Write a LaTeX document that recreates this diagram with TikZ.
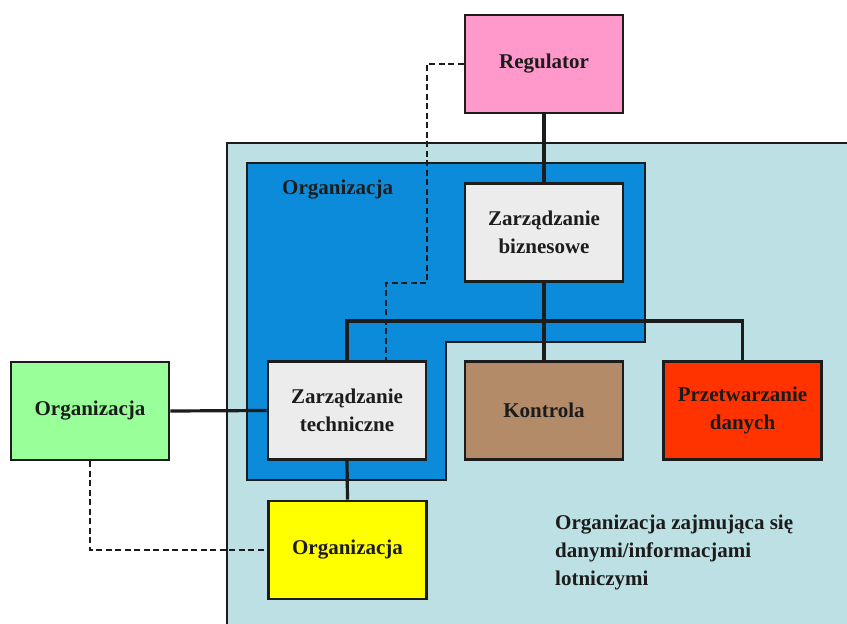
\documentclass[tikz,border=0pt]{standalone}
\usepackage{fontspec}
\setmainfont{Liberation Serif}
\definecolor{regpink}{HTML}{FF99CC}
\definecolor{areateal}{HTML}{BCE0E4}
\definecolor{orgblue}{HTML}{0B8BDA}
\definecolor{mgmtgray}{HTML}{ECECEC}
\definecolor{ctrlbrown}{HTML}{B38B68}
\definecolor{procred}{HTML}{FF3300}
\definecolor{extgreen}{HTML}{99FF99}
\definecolor{subyellow}{HTML}{FFFF00}
\definecolor{ink}{HTML}{1C1C1C}
\begin{document}
\begin{tikzpicture}[x=1pt,y=-1pt,
  lbl/.style={font=\bfseries\fontsize{21}{28}\selectfont, text=ink},
  box/.style={lbl, draw=ink, line width=2.8pt, rectangle, inner sep=0pt, align=center,
              minimum width=158pt, minimum height=98pt},
  link/.style={line width=3.2pt, draw=ink},
  dlink/.style={line width=2.2pt, draw=ink, dash pattern=on 6pt off 3.5pt}]
\useasboundingbox (0,0) rectangle (847,624);

% aviation data organisation area (runs off the page)
\begin{scope}
  \clip (0,0) rectangle (847,624);
  \draw[line width=2.6pt, draw=ink, fill=areateal] (227,143) rectangle (880,660);
\end{scope}

% the organisation itself
\draw[line width=2.8pt, draw=ink, fill=orgblue]
  (247,163) -- (645,163) -- (645,342) -- (446,342) -- (446,480) -- (247,480) -- cycle;
\node[lbl, anchor=west, inner sep=0pt] (orglab) at (282,190) {Organizacja};

% boxes
\node[box, fill=regpink]   (reg)  at (544,64)    {Regulator};
\node[box, fill=mgmtgray]  (biz)  at (544,232.5) {Zarządzanie\\biznesowe};
\node[box, fill=mgmtgray]  (tech) at (347,410.5) {Zarządzanie\\techniczne};
\node[box, fill=ctrlbrown] (kon)  at (544,410.5) {Kontrola};
\node[box, fill=procred]   (prz)  at (742.5,410.5) {Przetwarzanie\\danych};
\node[box, fill=extgreen]  (ext)  at (90,411)    {Organizacja};
\node[box, fill=subyellow] (sub)  at (347.5,550) {Organizacja};

\node[lbl, anchor=north west, align=left, inner sep=0pt] (area) at (555,515)
  {Organizacja zajmująca się\\danymi/informacjami\\lotniczymi};

% solid links
\coordinate (bus) at (0,321);
\draw[link] (reg.south) -- (biz.north);
\draw[link] (biz.south) -- (kon.north);
\draw[link] (tech.north) -- (tech.north |- bus) -- (prz.north |- bus) -- (prz.north);
\draw[link] (ext.east) -- (tech.west);
\draw[link] (tech.south) -- (sub.north);

% dashed links
\coordinate (d1) at (427,283);
\coordinate (d2) at (386,283);
\draw[dlink] (reg.west) -| (d1) -- (d2) -- (d2 |- tech.north);
\draw[dlink] (ext.south) |- (sub.west);
\end{tikzpicture}
\end{document}
